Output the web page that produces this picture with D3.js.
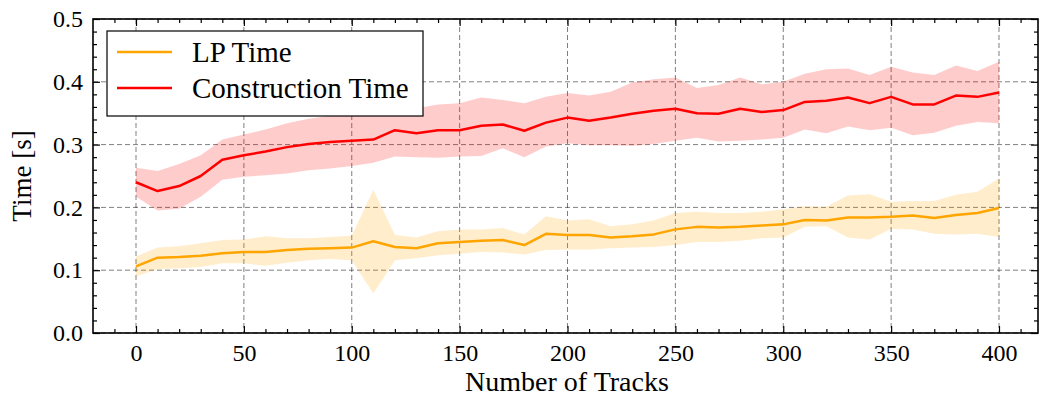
<!DOCTYPE html>
<html>
<head>
<meta charset="utf-8">
<script src="https://cdn.jsdelivr.net/npm/d3@7"></script>
<style>
  html, body { margin: 0; padding: 0; background: #fff; }
  svg { display: block; }
  text { font-family: "Liberation Serif", "DejaVu Serif", serif; fill: #000; }
</style>
</head>
<body>
<svg id="chart" width="1040" height="401"></svg>
<script>
// Number of tracks (x values)
const tracks = [0, 10, 20, 30, 40, 50, 60, 70, 80, 90, 100, 110, 120, 130, 140, 150, 160, 170, 180, 190,
  200, 210, 220, 230, 240, 250, 260, 270, 280, 290, 300, 310, 320, 330, 340, 350, 360, 370, 380, 390, 400];

// LP solve time: mean and spread band
const lpMean = [0.106, 0.120, 0.121, 0.123, 0.127, 0.129, 0.129, 0.132, 0.134, 0.135, 0.136, 0.146, 0.137, 0.135,
  0.143, 0.145, 0.147, 0.148, 0.140, 0.158, 0.156, 0.156, 0.152, 0.154, 0.157, 0.165, 0.169, 0.168, 0.169, 0.171,
  0.173, 0.180, 0.179, 0.184, 0.184, 0.185, 0.187, 0.183, 0.188, 0.191, 0.199];
const lpUpper = [0.122, 0.136, 0.138, 0.143, 0.148, 0.149, 0.154, 0.151, 0.151, 0.153, 0.155, 0.228, 0.156, 0.152,
  0.162, 0.165, 0.165, 0.167, 0.157, 0.186, 0.179, 0.181, 0.170, 0.173, 0.179, 0.191, 0.193, 0.191, 0.191, 0.193,
  0.197, 0.202, 0.201, 0.219, 0.221, 0.209, 0.210, 0.210, 0.220, 0.225, 0.246];
const lpLower = [0.090, 0.102, 0.103, 0.105, 0.111, 0.111, 0.107, 0.112, 0.116, 0.118, 0.116, 0.063, 0.116, 0.119,
  0.124, 0.126, 0.129, 0.128, 0.125, 0.132, 0.133, 0.133, 0.135, 0.136, 0.137, 0.140, 0.145, 0.145, 0.147, 0.151,
  0.152, 0.169, 0.170, 0.152, 0.149, 0.166, 0.165, 0.158, 0.157, 0.158, 0.153];

// Construction time: mean and spread band
const ctMean = [0.240, 0.226, 0.234, 0.250, 0.276, 0.283, 0.289, 0.296, 0.301, 0.304, 0.306, 0.308, 0.323, 0.318,
  0.323, 0.323, 0.330, 0.332, 0.322, 0.335, 0.343, 0.338, 0.343, 0.349, 0.354, 0.357, 0.350, 0.349, 0.357, 0.352,
  0.355, 0.368, 0.370, 0.375, 0.366, 0.376, 0.364, 0.364, 0.378, 0.376, 0.383];
const ctUpper = [0.263, 0.258, 0.269, 0.283, 0.308, 0.316, 0.324, 0.334, 0.341, 0.346, 0.348, 0.350, 0.362, 0.358,
  0.364, 0.366, 0.375, 0.371, 0.366, 0.376, 0.382, 0.378, 0.384, 0.399, 0.404, 0.407, 0.390, 0.395, 0.407, 0.396,
  0.400, 0.413, 0.420, 0.421, 0.411, 0.424, 0.415, 0.411, 0.426, 0.417, 0.432];
const ctLower = [0.217, 0.195, 0.198, 0.217, 0.244, 0.249, 0.251, 0.254, 0.259, 0.262, 0.266, 0.271, 0.281, 0.280,
  0.279, 0.281, 0.282, 0.294, 0.280, 0.297, 0.302, 0.299, 0.299, 0.298, 0.301, 0.306, 0.311, 0.305, 0.306, 0.308,
  0.311, 0.324, 0.318, 0.329, 0.323, 0.327, 0.315, 0.319, 0.330, 0.336, 0.334];

// Axis ticks
const xMajor = [0, 50, 100, 150, 200, 250, 300, 350, 400];
const xMinor = [-10, 10, 20, 30, 40, 60, 70, 80, 90, 110, 120, 130, 140, 160, 170, 180, 190, 210, 220, 230, 240,
  260, 270, 280, 290, 310, 320, 330, 340, 360, 370, 380, 390, 410];
const yMajor = [0.0, 0.1, 0.2, 0.3, 0.4, 0.5];
const yMinor = [0.02, 0.04, 0.06, 0.08, 0.12, 0.14, 0.16, 0.18, 0.22, 0.24, 0.26, 0.28, 0.32, 0.34, 0.36, 0.38,
  0.42, 0.44, 0.46, 0.48];

const series = [
  { name: "LP Time", color: "#FFA500", mean: lpMean, lo: lpLower, hi: lpUpper },
  { name: "Construction Time", color: "#FF0000", mean: ctMean, lo: ctLower, hi: ctUpper }
];

const margin = { left: 93, right: 2, top: 19, bottom: 68 };
const W = 1040, H = 401;
const iw = W - margin.left - margin.right;
const ih = H - margin.top - margin.bottom;

const svg = d3.select("#chart");
const g = svg.append("g").attr("transform", `translate(${margin.left},${margin.top})`);

// x runs a little past 400 on the right; padding is uneven on the two sides
const x = d3.scaleLinear().domain([0, 400]).range([43, 906]);
const y = d3.scaleLinear().domain([0, 0.5]).range([ih, 0]);

// Dashed grid at major ticks
const grid = g.append("g").attr("class", "grid")
  .attr("stroke", "#000").attr("stroke-opacity", 0.5)
  .attr("stroke-width", 1).attr("stroke-dasharray", "5,3");
grid.selectAll("line.gx").data(xMajor).join("line")
  .attr("x1", d => x(d)).attr("x2", d => x(d)).attr("y1", 0).attr("y2", ih);
grid.selectAll("line.gy").data(yMajor).join("line")
  .attr("y1", d => y(d)).attr("y2", d => y(d)).attr("x1", 0).attr("x2", iw);

// Spread bands
const area = (s) => d3.area()
  .x((d, i) => x(tracks[i]))
  .y0((d, i) => y(s.lo[i]))
  .y1((d, i) => y(s.hi[i]));
series.forEach(s => {
  g.append("path")
    .attr("d", area(s)(s.mean))
    .attr("fill", s.color)
    .attr("fill-opacity", 0.2)
    .attr("stroke", "none");
});

// Mean lines
series.forEach(s => {
  const line = d3.line().x((d, i) => x(tracks[i])).y(d => y(d));
  g.append("path")
    .attr("d", line(s.mean))
    .attr("fill", "none")
    .attr("stroke", s.color)
    .attr("stroke-width", 2.5)
    .attr("stroke-linejoin", "round");
});

// Axes with inward ticks on all four sides
function styleAxis(sel, fontSize) {
  sel.select(".domain").remove();
  sel.selectAll(".tick line").attr("stroke", "#000").attr("stroke-width", 1.2);
  sel.selectAll(".tick text")
    .style("font-family", '"Liberation Serif", "DejaVu Serif", serif')
    .style("font-size", fontSize + "px").attr("fill", "#000");
}
const MAJ = 7, MIN = 4;

g.append("g").attr("transform", `translate(0,${ih})`)
  .call(d3.axisBottom(x).tickValues(xMajor).tickSize(-MAJ).tickPadding(11).tickFormat(d3.format("d")))
  .call(s => styleAxis(s, 24));
g.append("g").attr("transform", `translate(0,${ih})`)
  .call(d3.axisBottom(x).tickValues(xMinor).tickSize(-MIN).tickFormat(""))
  .call(s => styleAxis(s, 24));
g.append("g")
  .call(d3.axisTop(x).tickValues(xMajor).tickSize(-MAJ).tickFormat(""))
  .call(s => styleAxis(s, 24));
g.append("g")
  .call(d3.axisTop(x).tickValues(xMinor).tickSize(-MIN).tickFormat(""))
  .call(s => styleAxis(s, 24));

g.append("g")
  .call(d3.axisLeft(y).tickValues(yMajor).tickSize(-MAJ).tickPadding(10).tickFormat(d3.format(".1f")))
  .call(s => styleAxis(s, 24));
g.append("g")
  .call(d3.axisLeft(y).tickValues(yMinor).tickSize(-MIN).tickFormat(""))
  .call(s => styleAxis(s, 24));
g.append("g").attr("transform", `translate(${iw},0)`)
  .call(d3.axisRight(y).tickValues(yMajor).tickSize(-MAJ).tickFormat(""))
  .call(s => styleAxis(s, 24));
g.append("g").attr("transform", `translate(${iw},0)`)
  .call(d3.axisRight(y).tickValues(yMinor).tickSize(-MIN).tickFormat(""))
  .call(s => styleAxis(s, 24));

// Frame
g.append("rect")
  .attr("x", 0).attr("y", 0).attr("width", iw).attr("height", ih)
  .attr("fill", "none").attr("stroke", "#000").attr("stroke-width", 1.6);

// Axis titles
svg.append("text")
  .attr("x", 567).attr("y", 391)
  .attr("text-anchor", "middle").style("font-size", "28px")
  .text("Number of Tracks");
svg.append("text")
  .attr("transform", `translate(31,${margin.top + ih / 2}) rotate(-90)`)
  .attr("text-anchor", "middle").style("font-size", "27px")
  .text("Time [s]");

// Legend
const legend = svg.append("g");
legend.append("rect")
  .attr("x", 107).attr("y", 31).attr("width", 316).attr("height", 85)
  .attr("fill", "#fff").attr("stroke", "#000").attr("stroke-width", 1.2);
const rowY = [52, 88];
series.forEach((s, i) => {
  legend.append("line")
    .attr("x1", 117).attr("x2", 172).attr("y1", rowY[i]).attr("y2", rowY[i])
    .attr("stroke", s.color).attr("stroke-width", 2.5);
  legend.append("text")
    .attr("x", 192).attr("y", rowY[i] + 10)
    .style("font-size", "29px")
    .text(s.name);
});
</script>
</body>
</html>
